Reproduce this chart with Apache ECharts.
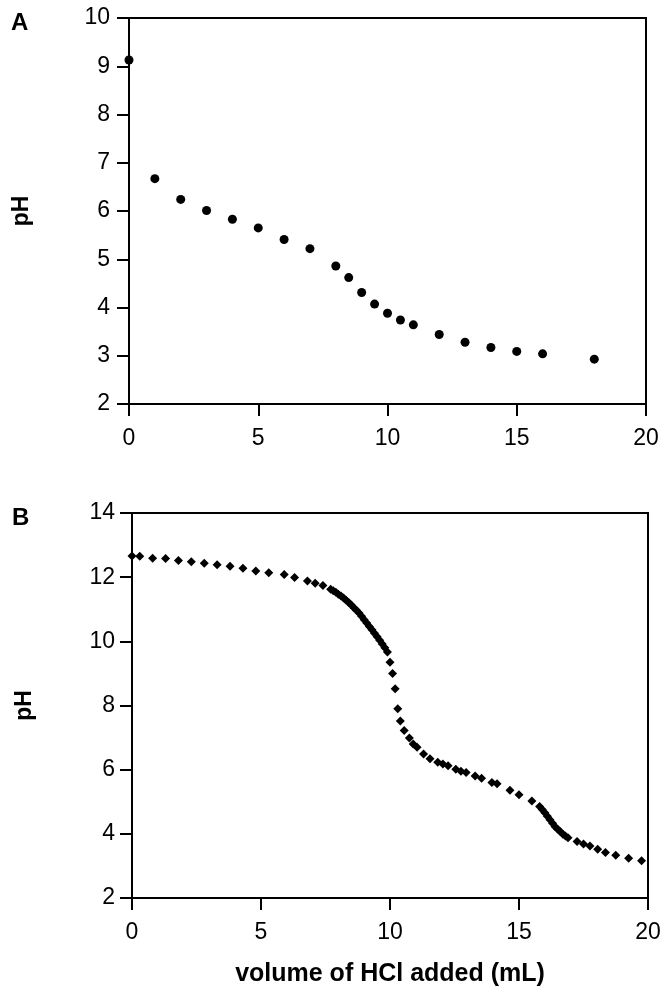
<!DOCTYPE html>
<html>
<head>
<meta charset="utf-8">
<title>pH titration</title>
<script src="https://cdn.jsdelivr.net/npm/echarts@6/dist/echarts.min.js"></script>
<style>
  html, body { margin: 0; padding: 0; background: #fff; }
  #chart { width: 671px; height: 1001px; }
</style>
</head>
<body>
<div id="chart"></div>
<script>
// panel A: volume (mL) vs pH
var volA = [0, 1, 2, 3, 4, 5, 6, 7, 8, 8.5, 9, 9.5, 10, 10.5, 11, 12, 13, 14, 15, 16, 18];
var phA = [9.13, 6.67, 6.24, 6.01, 5.83, 5.65, 5.41, 5.22, 4.86, 4.62, 4.31, 4.07, 3.88, 3.74, 3.64, 3.44, 3.28, 3.17, 3.09, 3.04, 2.93];

// panel B: volume (mL) vs pH
var volB = [0, 0.3, 0.8, 1.3, 1.8, 2.3, 2.8, 3.3, 3.8, 4.3, 4.8, 5.3, 5.9, 6.3, 6.8, 7.1, 7.4, 7.7,
  7.8, 7.9, 8.0, 8.1, 8.2, 8.3, 8.4, 8.5, 8.6, 8.7, 8.8, 8.9, 9.0, 9.1, 9.2, 9.3, 9.4, 9.5, 9.6, 9.7, 9.8, 9.9,
  10.0, 10.1, 10.2, 10.3, 10.4, 10.55, 10.75, 10.9, 11.05, 11.3, 11.55, 11.85, 12.05, 12.25, 12.55, 12.75, 12.95,
  13.3, 13.55, 13.95, 14.15, 14.65, 15.0, 15.5, 15.8,
  15.9, 16.0, 16.1, 16.2, 16.3, 16.4, 16.5, 16.6, 16.7, 16.8,
  16.9, 17.25, 17.5, 17.75, 18.05, 18.35, 18.75, 19.25, 19.75];
var phB = [12.66, 12.65, 12.59, 12.58, 12.52, 12.48, 12.43, 12.39, 12.34, 12.28, 12.19, 12.14, 12.08, 11.99, 11.88, 11.81, 11.74, 11.62,
  11.58, 11.53, 11.47, 11.41, 11.35, 11.28, 11.21, 11.13, 11.05, 10.97, 10.88, 10.78, 10.67, 10.57, 10.46, 10.36, 10.25, 10.14, 10.03, 9.92, 9.80, 9.67,
  9.35, 9.0, 8.52, 7.9, 7.52, 7.22, 6.99, 6.80, 6.70, 6.49, 6.34, 6.23, 6.18, 6.12, 6.01, 5.95, 5.91,
  5.80, 5.73, 5.60, 5.56, 5.36, 5.22, 5.02, 4.85,
  4.76, 4.66, 4.55, 4.44, 4.33, 4.22, 4.14, 4.07, 3.99, 3.93,
  3.88, 3.76, 3.68, 3.62, 3.52, 3.42, 3.33, 3.24, 3.16];

var xTicks = [0, 5, 10, 15, 20];
var panelLabels = ['A', 'B'];
var yTitle = 'pH';
var xTitle = 'volume of HCl added (mL)';

var FONT = "'Liberation Sans', Arial, sans-serif";

function xAxisFor(gridIndex, extra) {
  return Object.assign({
    type: 'value',
    gridIndex: gridIndex,
    min: xTicks[0],
    max: xTicks[xTicks.length - 1],
    interval: 5,
    splitLine: { show: false },
    axisLine: { lineStyle: { color: '#000', width: 2 } },
    axisTick: { length: 12, lineStyle: { color: '#000', width: 2 } },
    axisLabel: { color: '#000', fontSize: 23, fontFamily: FONT, margin: 23 }
  }, extra || {});
}

function yAxisFor(gridIndex, min, max, step, margin) {
  return {
    type: 'value',
    gridIndex: gridIndex,
    min: min,
    max: max,
    interval: step,
    name: yTitle,
    nameLocation: 'middle',
    nameRotate: 90,
    nameGap: 96,
    nameTextStyle: { color: '#000', fontSize: 23, fontWeight: 'bold', fontFamily: FONT },
    splitLine: { show: false },
    axisLine: { lineStyle: { color: '#000', width: 2 } },
    axisTick: { length: 12, lineStyle: { color: '#000', width: 2 } },
    axisLabel: { color: '#000', fontSize: 23, fontFamily: FONT, margin: margin }
  };
}

var chart = echarts.init(document.getElementById('chart'));
chart.setOption({
  animation: false,
  backgroundColor: '#fff',
  title: [
    { text: panelLabels[0], left: 6, top: 6, textStyle: { fontSize: 24, fontWeight: 'bold', fontFamily: FONT, color: '#000' } },
    { text: panelLabels[1], left: 7, top: 501, textStyle: { fontSize: 24, fontWeight: 'bold', fontFamily: FONT, color: '#000' } }
  ],
  grid: [
    { left: 129, top: 18, width: 517, height: 386, show: true, borderColor: '#000', borderWidth: 2 },
    { left: 132, top: 513, width: 516, height: 385, show: true, borderColor: '#000', borderWidth: 2 }
  ],
  xAxis: [
    xAxisFor(0),
    xAxisFor(1, {
      name: xTitle,
      nameLocation: 'middle',
      nameGap: 64,
      nameTextStyle: { color: '#000', fontSize: 25, fontWeight: 'bold', fontFamily: FONT }
    })
  ],
  yAxis: [
    yAxisFor(0, 2, 10, 1, 19),
    yAxisFor(1, 2, 14, 2, 17)
  ],
  series: [
    {
      type: 'scatter',
      xAxisIndex: 0,
      yAxisIndex: 0,
      symbol: 'circle',
      symbolSize: 9,
      itemStyle: { color: '#000', opacity: 1 },
      data: volA.map(function (v, i) { return [v, phA[i]]; })
    },
    {
      type: 'scatter',
      xAxisIndex: 1,
      yAxisIndex: 1,
      symbol: 'diamond',
      symbolSize: 9,
      itemStyle: { color: '#000', opacity: 1 },
      data: volB.map(function (v, i) { return [v, phB[i]]; })
    }
  ]
});
</script>
</body>
</html>
